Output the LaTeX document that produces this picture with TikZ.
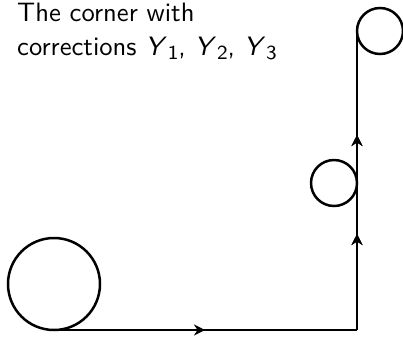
\documentclass[tikz,border=0pt]{standalone}
\usetikzlibrary{arrows.meta,decorations.markings}
\newcommand{\bigtxt}[1]{\scalebox{2.66}{\sffamily #1}}
\newcommand{\ysub}[1]{\textit{Y}\kern0.3pt\raisebox{-1.6pt}{\fontsize{7.5}{8}\selectfont #1}}
\begin{document}
\begin{tikzpicture}[x=1pt,y=-1pt,
  ring/.style={circle,draw,line width=2.5pt,inner sep=0pt,outer sep=0pt},
  track/.style={line width=2.5pt},
  lbl/.style={anchor=base west,inner sep=0pt},
  tip/.style={decoration={markings,mark=at position #1 with {\arrow{Stealth[length=11pt,width=11pt,inset=3.5pt]}}},postaction={decorate}}]
\useasboundingbox (0,0) rectangle (403,338);
\node[lbl] (t1) at (17,21) {\bigtxt{The corner with}};
\node[lbl] (t2) at (17,55) {\bigtxt{corrections \ysub{1}, \ysub{2}, \ysub{3}}};
\node[ring,minimum size=92pt] (big) at (54,284) {};
\node[ring,minimum size=46pt] (mid) at (334,183) {};
\node[ring,minimum size=46pt] (top) at (380,31) {};
\coordinate (corner) at (357,330);
\draw[track,tip=151pt] (big.south) -- (corner);
\draw[track,tip=96pt,tip=195pt] (corner) -- (top.west);
\end{tikzpicture}
\end{document}
